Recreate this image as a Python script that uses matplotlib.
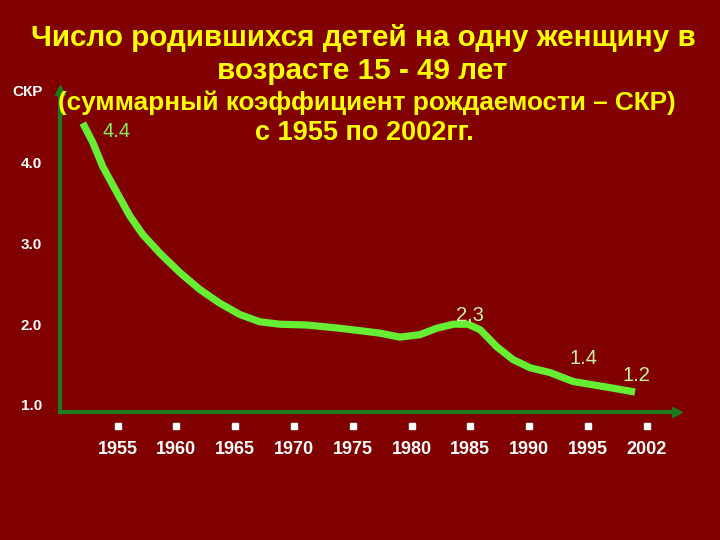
import matplotlib
matplotlib.use("Agg")
import matplotlib.pyplot as plt

# ---- data ----
years = ["1955", "1960", "1965", "1970", "1975", "1980", "1985", "1990", "1995", "2002"]
# line trace (x in category-index units, y = TFR)
curve_x = [-0.59, -0.42, -0.25, -0.01, 0.21, 0.43, 0.72, 1.06, 1.40, 1.74, 2.08, 2.42,
           2.76, 3.22, 3.78, 4.46, 4.80, 5.14, 5.43, 5.71, 5.96, 6.17, 6.45, 6.73,
           7.02, 7.36, 7.75, 8.33, 8.80]
curve_y = [4.49, 4.25, 3.95, 3.63, 3.34, 3.11, 2.88, 2.64, 2.43, 2.26, 2.12, 2.03,
           2.00, 1.99, 1.95, 1.89, 1.84, 1.87, 1.95, 2.00, 2.00, 1.93, 1.72, 1.56,
           1.46, 1.40, 1.29, 1.22, 1.16]
y_ticks = [1.0, 2.0, 3.0, 4.0]
y_tick_labels = ["1.0", "2.0", "3.0", "4.0"]
annot_text = ["4.4", "2,3", "1.4", "1.2"]
annot_x = [-0.02, 5.99, 7.93, 8.83]
annot_y = [4.39, 2.12, 1.58, 1.37]

title_lines = ["Число родившихся детей на одну женщину в",
               "возрасте 15 - 49 лет",
               "(суммарный коэффициент рождаемости – СКР)",
               "с 1955 по 2002гг."]

BG = "#800000"
AX_GREEN = "#1e7a1e"
LINE_GREEN = "#66ee33"
FONT = ["Liberation Sans", "DejaVu Sans"]

fig = plt.figure(figsize=(7.2, 5.4), dpi=100, facecolor=BG)
ax = fig.add_axes([60/720, 1-412/540, (677-60)/720, (412-90)/540], facecolor=BG)

ax.plot(curve_x, curve_y, color=LINE_GREEN, lw=5.2, solid_capstyle="butt",
        solid_joinstyle="round")

ax.set_xlim(-0.978, 9.514)
ax.set_ylim(0.913, 4.90)

for s in ["top", "right"]:
    ax.spines[s].set_visible(False)
for s in ["left", "bottom"]:
    ax.spines[s].set_color(AX_GREEN)
    ax.spines[s].set_linewidth(3)
ax.plot(1, 0, ">", color=AX_GREEN, ms=7, transform=ax.transAxes, clip_on=False)
ax.plot(0, 1, "^", color=AX_GREEN, ms=7, transform=ax.transAxes, clip_on=False)

# y ticks
ax.set_yticks(y_ticks)
ax.set_yticklabels(y_tick_labels, color="white", fontsize=11, fontweight="bold",
                   family=FONT)
ax.tick_params(axis="y", length=0, pad=13)

# x ticks (categorical)
idx = list(range(len(years)))
ax.set_xticks(idx)
ax.set_xticklabels(years, color="white", fontsize=13, fontweight="bold", family=FONT)
ax.tick_params(axis="x", length=0, pad=21)
trans = matplotlib.transforms.blended_transform_factory(ax.transData, ax.transAxes)
ax.plot(idx, [-0.042]*len(idx), "s", color="white", ms=4, transform=trans,
        clip_on=False, ls="none")

# annotations
for t, xx, yy, c in zip(annot_text, annot_x, annot_y,
                        ["#88ee55", "#ccf0a0", "#ccf0a0", "#ccf0a0"]):
    ax.text(xx, yy, t, color=c, fontsize=14.5, ha="center", va="center", family=FONT)

# СКР label
fig.text(28/720, 1-92/540, "СКР", color="white", fontsize=11, fontweight="bold",
         ha="center", va="center", family=FONT)

# titles
title_y = [38, 71, 103, 133]
title_x = [363, 362, 367, 364]
title_size = [21.3, 21.3, 18.8, 19.5]
for t, xx, yy, fs in zip(title_lines, title_x, title_y, title_size):
    fig.text(xx/720, 1-yy/540, t, color="#ffff00", fontsize=fs, fontweight="bold",
             ha="center", va="center", family=FONT)

fig.savefig("out.png", dpi=100, facecolor=BG)
